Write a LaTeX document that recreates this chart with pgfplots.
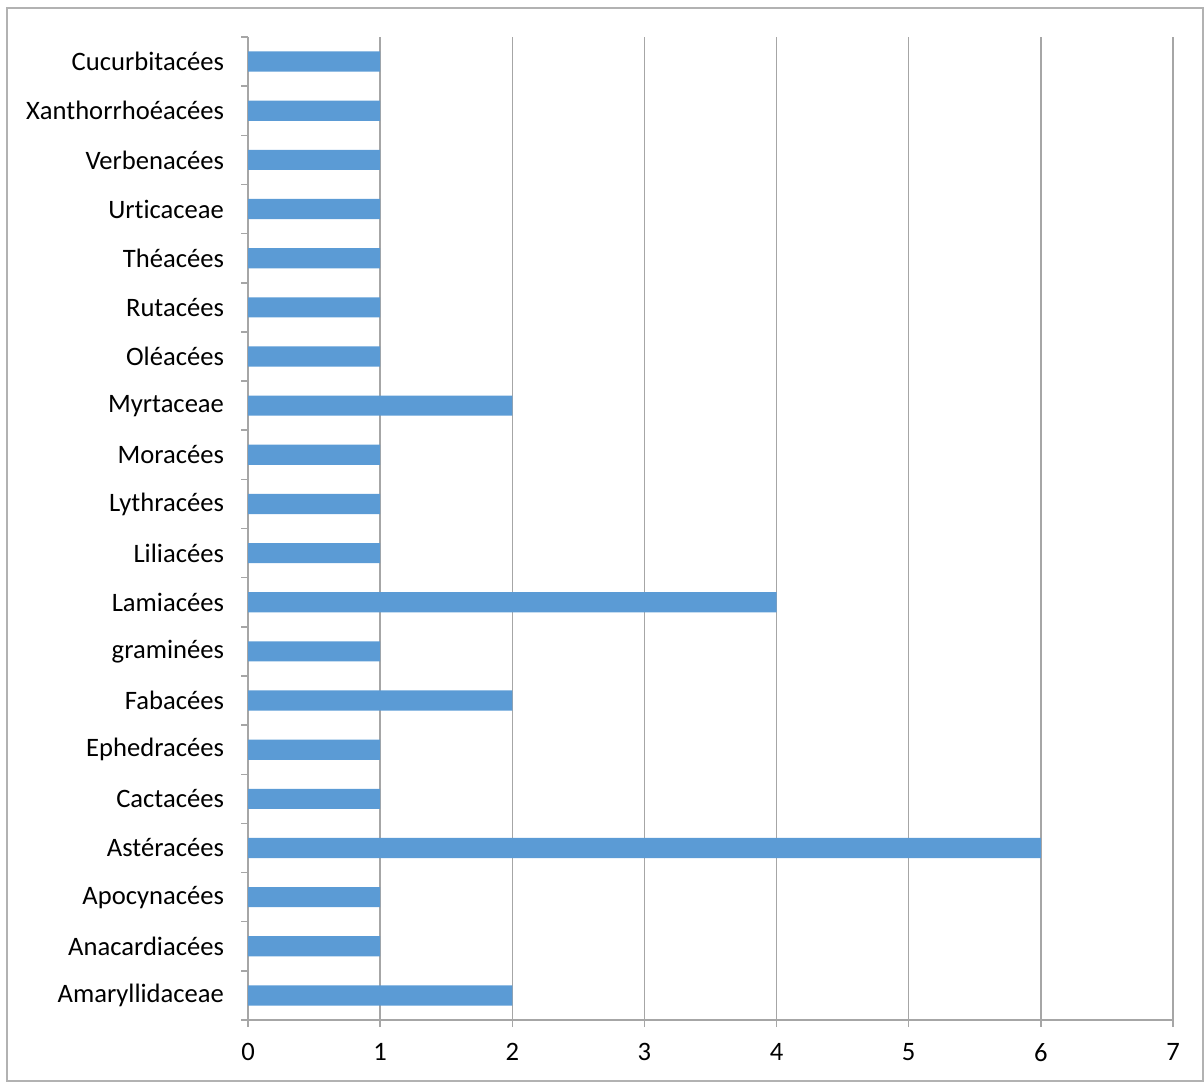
\documentclass[border=0pt]{standalone}
\usepackage{pgfplots}
\pgfplotsset{compat=1.18}
\usepackage{fontspec}
\setmainfont[Ligatures=CommonOff]{Carlito}
\definecolor{barblue}{RGB}{91,155,213}
\definecolor{axgray}{RGB}{166,166,166}
\definecolor{bordergray}{RGB}{178,178,178}
\begin{document}
\begin{tikzpicture}
\begin{axis}[
  scale only axis,
  width=462.5pt, height=491.5pt,
  xbar, bar width=0.41,
  xmin=0, xmax=7, ymin=-0.5, ymax=19.5,
  xtick={0,1,2,3,4,5,6,7},
  ytick={0,...,19},
  yticklabels={Amaryllidaceae,Anacardiacées,Apocynacées,Astéracées,Cactacées,Ephedracées,Fabacées,graminées,Lamiacées,Liliacées,Lythracées,Moracées,Myrtaceae,Oléacées,Rutacées,Théacées,Urticaceae,Verbenacées,Xanthorrhoéacées,Cucurbitacées},
  minor ytick={-0.5,0.5,...,19.5},
  axis x line*=bottom, axis y line*=left,
  axis line style={draw=axgray, line width=0.75pt, -},
  tick align=outside,
  major tick length=3.5pt, minor tick length=3.5pt,
  x tick style={draw=axgray, line width=0.75pt},
  y tick style={draw=none},
  minor y tick style={draw=axgray, line width=0.75pt},
  xmajorgrids, major x grid style={draw=axgray, line width=0.75pt},
  yminorgrids=false,
  tick label style={font=\fontsize{13.3}{15}\selectfont, text=black},
  /pgf/number format/assume math mode=true,
  yticklabel style={anchor=east, xshift=-5pt},
  xticklabel style={yshift=-4.5pt},
  clip=false,
]
\addplot[fill=barblue, draw=none] coordinates {
(2,0) (1,1) (1,2) (6,3) (1,4) (1,5) (2,6) (1,7) (4,8) (1,9)
(1,10) (1,11) (2,12) (1,13) (1,14) (1,15) (1,16) (1,17) (1,18) (1,19)};
\draw[bordergray, line width=0.75pt] ([xshift=-120.5pt,yshift=-30.5pt]rel axis cs:0,0) rectangle ([xshift=15pt,yshift=14.5pt]rel axis cs:1,1);
\path ([xshift=-124pt,yshift=-31pt]rel axis cs:0,0) rectangle ([xshift=15.5pt,yshift=18.5pt]rel axis cs:1,1);
\end{axis}
\end{tikzpicture}
\end{document}
